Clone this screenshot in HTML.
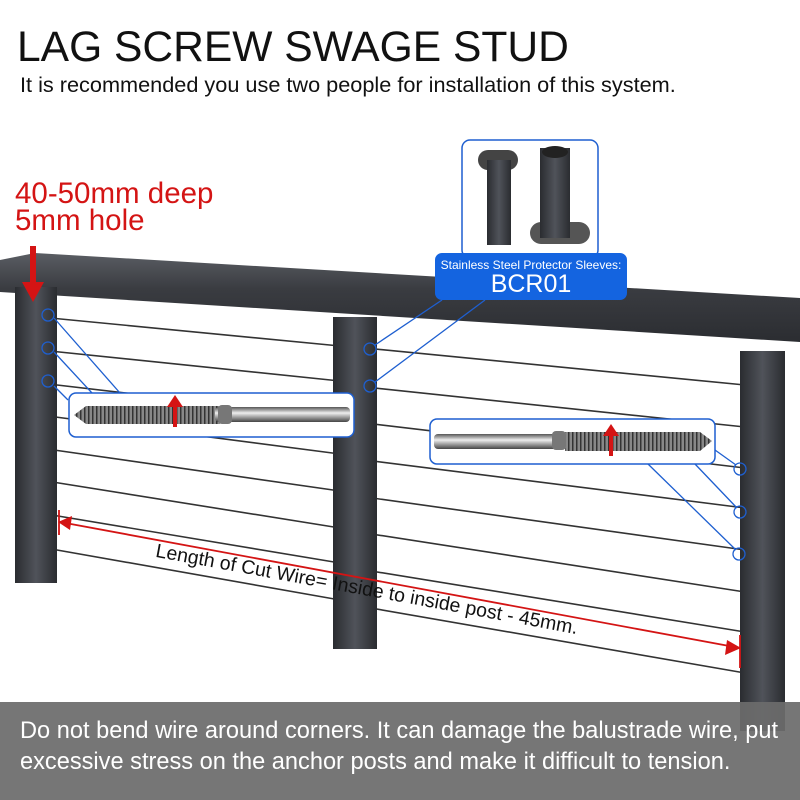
<!DOCTYPE html>
<html><head><style>
body{margin:0;width:800px;height:800px;overflow:hidden;background:#fff;font-family:"Liberation Sans",sans-serif;position:relative}
.t{position:absolute;white-space:nowrap}
</style></head><body>
<div class="t" style="left:17px;top:23px;font-size:43px;color:#111;transform:scaleX(0.99);transform-origin:0 0">LAG SCREW SWAGE STUD</div>
<div class="t" style="left:20px;top:72px;font-size:21.7px;color:#111">It is recommended you use two people for installation of this system.</div>
<div class="t" style="left:15px;top:180px;font-size:29.5px;color:#d41414;line-height:27px">40-50mm deep<br>5mm hole</div>
<svg width="800" height="800" style="position:absolute;left:0;top:0">
<defs>
<linearGradient id="pg" x1="0" x2="1"><stop offset="0" stop-color="#2a2c30"/><stop offset=".5" stop-color="#50535a"/><stop offset="1" stop-color="#2a2c30"/></linearGradient>
<linearGradient id="rg" x1="0" y1="0" x2="0" y2="1"><stop offset="0" stop-color="#5a5d63"/><stop offset=".4" stop-color="#3a3c41"/><stop offset="1" stop-color="#2b2d31"/></linearGradient>
<linearGradient id="sg" x1="0" y1="0" x2="0" y2="1"><stop offset="0" stop-color="#555"/><stop offset=".4" stop-color="#eee"/><stop offset="1" stop-color="#444"/></linearGradient>
<pattern id="th" width="4" height="20" patternUnits="userSpaceOnUse"><rect width="4" height="20" fill="#888"/><rect width="1.5" height="20" fill="#333"/></pattern>
</defs>
<g stroke="#333" stroke-width="1.6">
<line x1="40" y1="317" x2="340" y2="346"/><line x1="40" y1="350" x2="340" y2="381"/><line x1="40" y1="383" x2="340" y2="418"/><line x1="40" y1="415" x2="340" y2="454"/><line x1="40" y1="448" x2="340" y2="491"/><line x1="40" y1="480" x2="340" y2="528"/><line x1="40" y1="513" x2="340" y2="563"/><line x1="40" y1="547" x2="340" y2="600"/>
<line x1="365" y1="348" x2="745" y2="385"/><line x1="365" y1="387" x2="745" y2="427"/><line x1="365" y1="423" x2="745" y2="468"/><line x1="365" y1="460" x2="745" y2="508"/><line x1="365" y1="497" x2="745" y2="550"/><line x1="365" y1="533" x2="745" y2="592"/><line x1="365" y1="570" x2="745" y2="632"/><line x1="365" y1="607" x2="745" y2="673"/>
</g>
<polygon points="0,260 35,253 800,298 800,342 0,292" fill="url(#rg)"/>
<rect x="15" y="287" width="42" height="296" fill="url(#pg)"/>
<rect x="333" y="317" width="44" height="332" fill="url(#pg)"/>
<rect x="740" y="351" width="45" height="380" fill="url(#pg)"/>
<rect x="30" y="246" width="6" height="40" fill="#d41414"/><polygon points="22,282 44,282 33,302" fill="#d41414"/>
<g stroke="#1e5fd0" stroke-width="1.3" fill="none">
<circle cx="48" cy="315" r="6"/><circle cx="48" cy="348" r="6"/><circle cx="48" cy="381" r="6"/>
<line x1="54" y1="318" x2="120" y2="393"/><line x1="54" y1="352" x2="92" y2="393"/><line x1="54" y1="386" x2="68" y2="400"/>
<circle cx="370" cy="349" r="6"/><circle cx="370" cy="386" r="6"/>
<line x1="375" y1="345" x2="442" y2="300"/><line x1="375" y1="382" x2="485" y2="300"/>
<circle cx="740" cy="469" r="6"/><circle cx="740" cy="512" r="6"/><circle cx="739" cy="554" r="6"/>
<line x1="715" y1="450" x2="736" y2="465"/><line x1="695" y1="464" x2="737" y2="508"/><line x1="648" y1="464" x2="736" y2="550"/>
</g>
<rect x="69" y="393" width="285" height="44" rx="7" fill="#fff" stroke="#1e5fd0" stroke-width="1.5"/>
<polygon points="74,415 86,406 220,406 220,424 86,424" fill="url(#th)"/>
<rect x="215" y="407" width="135" height="15" rx="4" fill="url(#sg)"/>
<rect x="218" y="405" width="14" height="19" rx="4" fill="#777"/>
<rect x="430" y="419" width="285" height="45" rx="7" fill="#fff" stroke="#1e5fd0" stroke-width="1.5"/>
<rect x="434" y="434" width="130" height="15" rx="4" fill="url(#sg)"/>
<polygon points="565,432 700,432 712,441 700,451 565,451" fill="url(#th)"/>
<rect x="552" y="431" width="14" height="19" rx="4" fill="#777"/>
<g fill="#d41414"><polygon points="175,395 167,407 183,407"/><rect x="173" y="405" width="4" height="22"/><polygon points="611,424 603,436 619,436"/><rect x="609" y="434" width="4" height="22"/></g>
<rect x="462" y="140" width="136" height="118" rx="8" fill="#fff" stroke="#1e5fd0" stroke-width="1.5"/>
<rect x="478" y="150" width="40" height="20" rx="10" fill="#444"/><rect x="487" y="160" width="24" height="85" fill="url(#pg)"/>
<rect x="530" y="222" width="60" height="22" rx="11" fill="#555"/><rect x="540" y="148" width="30" height="90" fill="url(#pg)"/><ellipse cx="555" cy="152" rx="13" ry="6" fill="#222"/>
<rect x="435" y="253" width="192" height="47" rx="7" fill="#1464e0"/>
<g stroke="#d41414" stroke-width="1.8"><line x1="60" y1="522" x2="740" y2="648"/><line x1="59" y1="510" x2="59" y2="535"/><line x1="740" y1="635" x2="740" y2="668"/></g>
<polygon points="58,522 72,516 70,530" fill="#d41414"/><polygon points="741,648 727,640 725,655" fill="#d41414"/>
<rect x="0" y="702" width="800" height="98" fill="#6c6c6c" opacity="0.93"/>
</svg>
<div class="t" style="left:440px;top:258px;width:182px;text-align:center;color:#fff;font-size:12px">Stainless Steel Protector Sleeves:</div>
<div class="t" style="left:440px;top:270px;width:182px;text-align:center;color:#fff;font-size:25px">BCR01</div>
<div class="t" style="left:158px;top:540px;font-size:19.5px;color:#111;transform:rotate(10.4deg);transform-origin:0 0">Length of Cut Wire= Inside to inside post - 45mm.</div>
<div class="t" style="left:20px;top:716px;font-size:23.6px;color:#fff;line-height:31px">Do not bend wire around corners. It can damage the balustrade wire, put<br>excessive stress on the anchor posts and make it difficult to tension.</div>
</body></html>
